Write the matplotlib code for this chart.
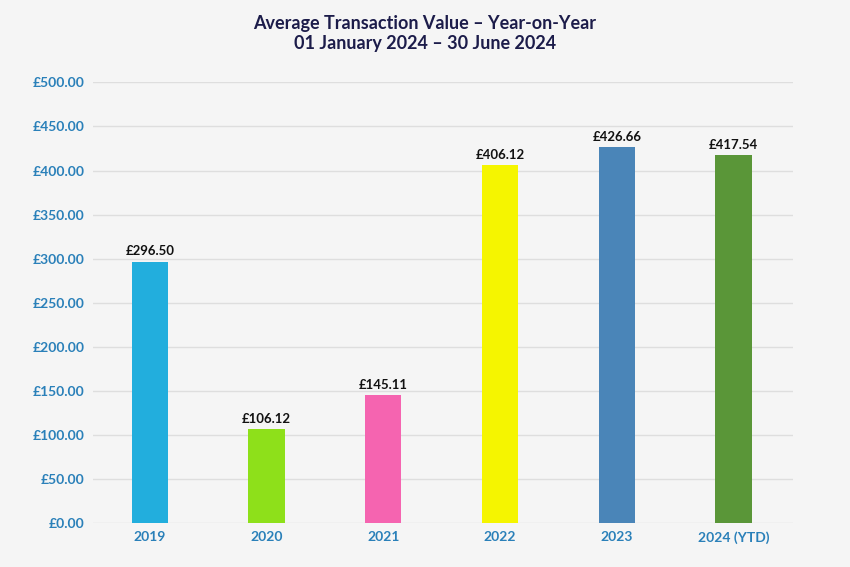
import numpy as np
import matplotlib
matplotlib.use('Agg')
import matplotlib.pyplot as plt

# Data
years = ['2019', '2020', '2021', '2022', '2023', '2024 (YTD)']
avg_value = [296.50, 106.12, 145.11, 406.12, 426.66, 417.54]
bar_colors = ['#22aedd', '#8ee01a', '#f564b0', '#f5f500', '#4a85b8', '#5a9638']
y_ticks = np.arange(0, 501, 50)

plt.rcParams['font.family'] = ['Lato', 'DejaVu Sans']
bg = '#f5f5f5'

fig = plt.figure(figsize=(8.5, 5.67), dpi=100, facecolor=bg)
ax = fig.add_axes([0.109, 0.0776, 0.824, 0.777], facecolor=bg)

x = np.arange(len(years))
ax.bar(x, avg_value, width=0.31, color=bar_colors, zorder=3)

for xi, v in zip(x, avg_value):
    ax.text(xi, v + 5, f'£{v:,.2f}', ha='center', va='bottom',
            fontsize=9.5, fontweight='bold', color='#111111', zorder=4)

ax.set_xlim(-0.49, 5.51)
ax.set_ylim(0, 500)
ax.set_yticks(y_ticks)
ax.set_yticklabels([f'£{t:.2f}' for t in y_ticks])
ax.set_xticks(x)
ax.set_xticklabels(years)

ax.grid(axis='y', color='#dedede', linewidth=1, zorder=0)
for s in ax.spines.values():
    s.set_visible(False)
ax.tick_params(length=0, colors='#2a80b9', labelsize=10)
ax.tick_params(axis='y', pad=6)
ax.tick_params(axis='x', pad=6)
for lbl in ax.get_xticklabels() + ax.get_yticklabels():
    lbl.set_fontweight('bold')

fig.text(0.5, 0.941, 'Average Transaction Value – Year-on-Year\n01 January 2024 – 30 June 2024',
         ha='center', va='center', fontsize=13, fontweight='bold',
         color='#1c1c4a', linespacing=1.2)

fig.savefig('out.png', dpi=100, facecolor=bg)
